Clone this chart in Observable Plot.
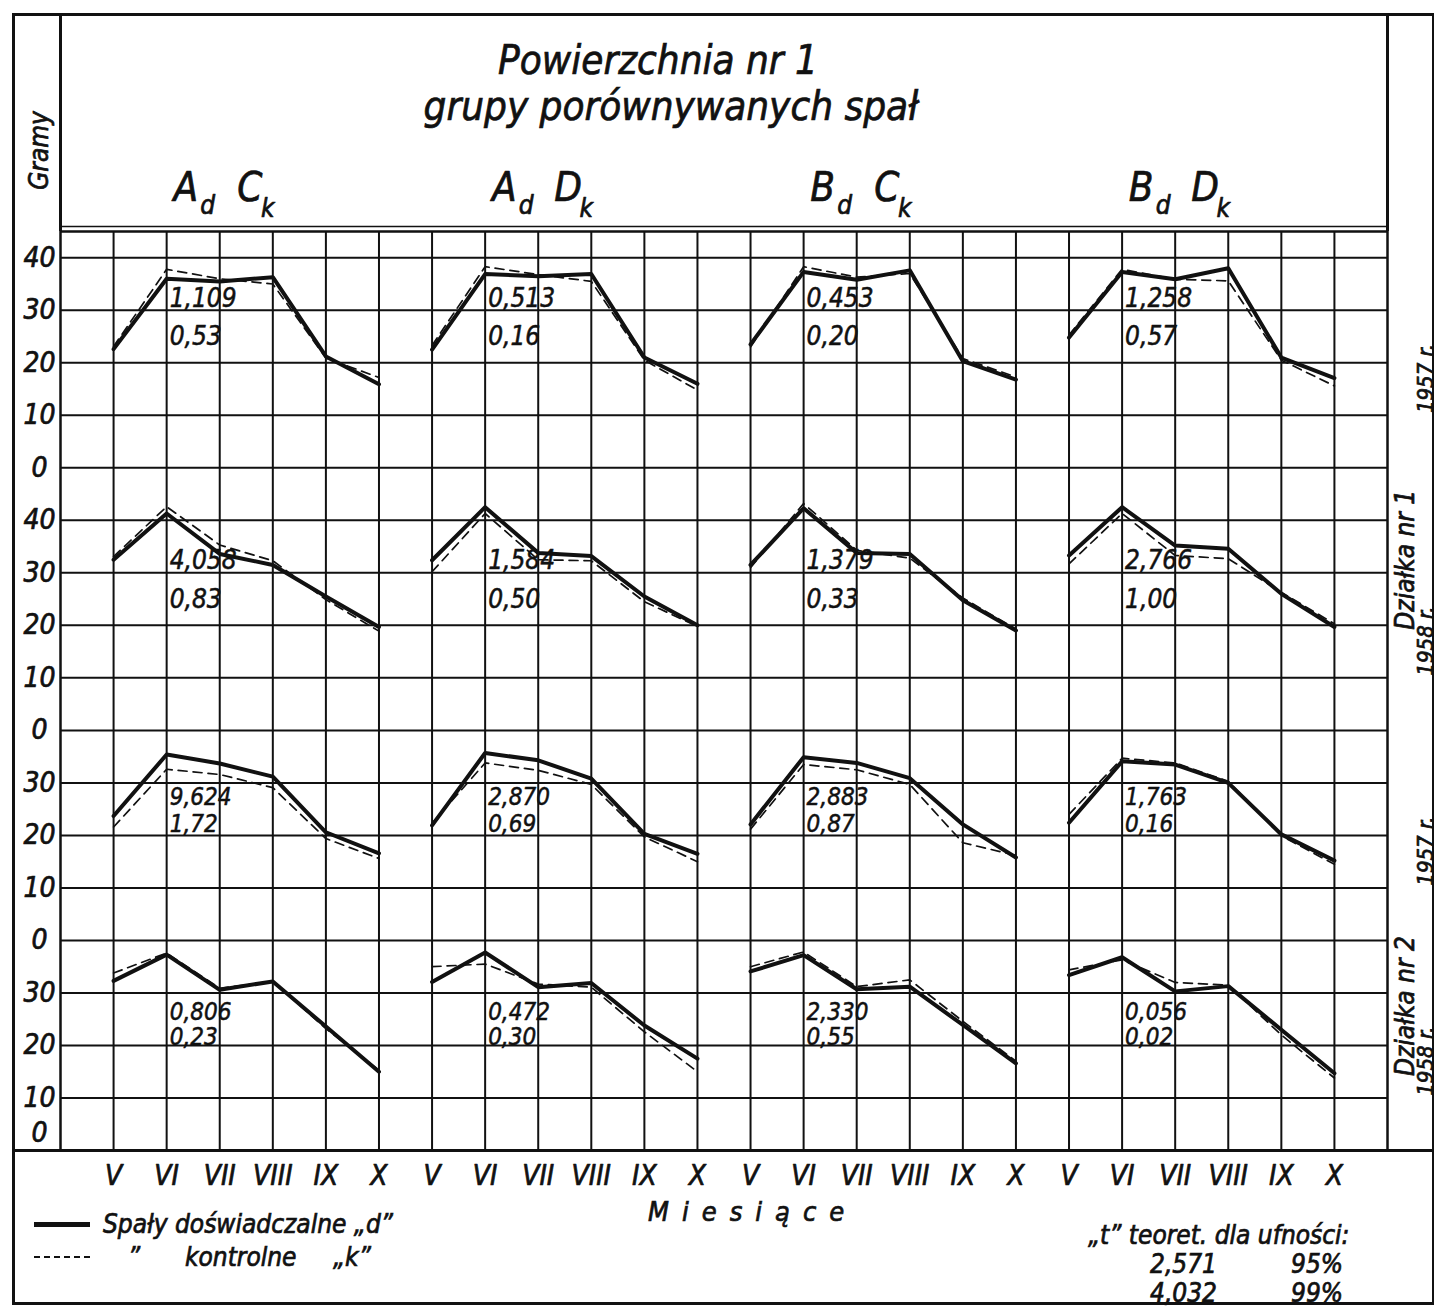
<!DOCTYPE html>
<html>
<head>
<meta charset="utf-8">
<script src="https://cdn.jsdelivr.net/npm/d3@7"></script>
<script src="https://cdn.jsdelivr.net/npm/@observablehq/plot@0.6"></script>
<style>
  html, body { margin: 0; padding: 0; background: #fff; }
  #page { position: relative; width: 1437px; height: 1311px; overflow: hidden;
          font-family: "Liberation Sans Narrow", "DejaVu Sans Condensed", "Liberation Sans", sans-serif;
          font-style: italic; color: #111; }
  #chart { position: absolute; left: 0; top: 0; }
  .abs { position: absolute; white-space: nowrap; line-height: 1; -webkit-text-stroke: 0.7px #111; }
  .bar { position: absolute; background: #111; }
</style>
</head>
<body>
<div id="page">
  <div id="chart"></div>
  <!-- frame lines around the figure -->
  <div class="bar" style="left:12px;top:13px;width:1422px;height:2.5px"></div>
  <div class="bar" style="left:12px;top:1302px;width:1422px;height:2.5px"></div>
  <div class="bar" style="left:12px;top:13px;width:2.5px;height:1292px"></div>
  <div class="bar" style="left:1432px;top:13px;width:2px;height:1292px"></div>
  <div class="bar" style="left:59px;top:13px;width:2.5px;height:218px"></div>
  <div class="bar" style="left:1386px;top:13px;width:2.5px;height:218px"></div>
  <div class="bar" style="left:12px;top:1149px;width:1422px;height:2.5px"></div>

  <div class="abs" id="t1" style="left:380px;width:556px;top:40px;text-align:center;font-size:40px">Powierzchnia nr 1</div>
  <div class="abs" id="t2" style="left:380px;width:582px;top:86px;text-align:center;font-size:40px">grupy porównywanych spał</div>

  <div class="abs" style="left:648px;top:1198px;font-size:27px;letter-spacing:13px">Miesiące</div>

  <div class="bar" style="left:34px;top:1222px;width:56px;height:4.5px"></div>
  <div class="abs" style="left:103px;top:1211px;font-size:26px">Spały doświadczalne „d”</div>
  <div class="abs" style="left:34px;top:1256px;width:56px;height:0;border-top:2px dashed #111;-webkit-text-stroke:0"></div>
  <div class="abs" style="left:128px;top:1244px;font-size:26px">”</div>
  <div class="abs" style="left:185px;top:1244px;font-size:26px">kontrolne</div>
  <div class="abs" style="left:333px;top:1244px;font-size:26px">„k”</div>

  <div class="abs" style="left:1088px;top:1222px;font-size:26px">„t” teoret. dla ufności:</div>
  <div class="abs" style="left:1150px;top:1251px;font-size:26px">2,571</div>
  <div class="abs" style="left:1291px;top:1251px;font-size:26px">95%</div>
  <div class="abs" style="left:1150px;top:1280px;font-size:26px">4,032</div>
  <div class="abs" style="left:1291px;top:1280px;font-size:26px">99%</div>
</div>
<script>
const FONT = '"Liberation Sans Narrow", "DejaVu Sans Condensed", "Liberation Sans", sans-serif';

// ---------- data ----------
const months = ["V", "VI", "VII", "VIII", "IX", "X"];
const groupD = ["A", "A", "B", "B"];       // experimental sleepers "d"
const groupK = ["C", "D", "C", "D"];       // control sleepers "k"
const panelYears = ["1957 r.", "1958 r.", "1957 r.", "1958 r."];
const plotNames = ["Działka nr 1", "Działka nr 2"];

// grams, months V..X, for groups AdCk, AdDk, BdCk, BdDk
const dz1_1957_d = [[22.6, 36.0, 35.5, 36.3, 21.2, 15.9], [22.5, 36.9, 36.5, 36.9, 21.0, 16.0], [23.5, 37.3, 35.8, 37.6, 20.3, 16.8], [24.8, 37.3, 35.9, 38.0, 21.0, 17.1]];
const dz1_1957_k = [[23.1, 37.8, 36.0, 35.0, 20.9, 17.2], [23.3, 38.3, 36.8, 35.5, 20.5, 14.8], [23.0, 38.3, 36.3, 37.0, 20.8, 17.3], [25.3, 37.8, 35.9, 35.6, 20.5, 15.6]];
const dz1_1958_d = [[32.5, 41.3, 33.6, 31.5, 25.5, 19.7], [32.4, 42.5, 33.8, 33.2, 25.5, 20.0], [31.5, 42.3, 33.8, 33.6, 24.8, 19.0], [33.3, 42.5, 35.2, 34.6, 26.0, 19.7]];
const dz1_1958_k = [[33.1, 42.6, 35.3, 32.3, 24.9, 18.9], [30.2, 41.3, 32.5, 32.3, 24.5, 19.8], [31.0, 43.2, 34.3, 32.8, 25.2, 19.3], [31.7, 41.3, 33.3, 32.7, 26.3, 20.3]];
const dz2_1957_d = [[23.7, 35.4, 33.7, 31.2, 20.6, 16.6], [21.9, 35.7, 34.3, 30.8, 20.3, 16.5], [22.1, 34.9, 33.8, 30.9, 22.1, 15.8], [22.4, 34.1, 33.5, 30.0, 20.2, 15.2]];
const dz2_1957_k = [[21.6, 32.6, 31.6, 29.1, 19.4, 15.6], [22.3, 33.8, 32.4, 29.7, 19.7, 15.0], [21.2, 33.5, 32.5, 29.7, 18.6, 16.2], [24.0, 34.7, 33.8, 30.3, 19.9, 14.5]];
const dz2_1958_d = [[32.3, 37.3, 30.6, 32.2, 23.6, 15.0], [32.1, 37.7, 31.1, 31.9, 23.8, 17.5], [34.1, 37.2, 30.7, 31.2, 23.9, 16.6], [33.4, 36.8, 30.3, 31.3, 23.0, 14.7]];
const dz2_1958_k = [[33.8, 37.6, 30.9, 32.2, 23.2, 15.3], [35.0, 35.5, 31.7, 31.1, 22.6, 15.0], [35.0, 37.8, 31.2, 32.5, 24.6, 17.0], [34.4, 36.3, 32.0, 31.5, 22.0, 13.8]];

// computed "t" and second statistic written in each panel
const tValues = [["1,109", "0,513", "0,453", "1,258"], ["4,058", "1,584", "1,379", "2,766"], ["9,624", "2,870", "2,883", "1,763"], ["0,806", "0,472", "2,330", "0,056"]];
const secondValues = [["0,53", "0,16", "0,20", "0,57"], ["0,83", "0,50", "0,33", "1,00"], ["1,72", "0,69", "0,87", "0,16"], ["0,23", "0,30", "0,55", "0,02"]];

const yTickLabels = [["40", "30", "20", "10", "0"], ["40", "30", "20", "10", "0"], ["30", "20", "10", "0"], ["30", "20", "10", "0"]];

// ---------- layout (stacking of the four panels on one continuous axis) ----------
const panelBase = [-40, -90, -130, -170];      // where each panel's 0 g sits
const annotTop = [32.3, 32.3, 27.2, 26.4];
const annotBottom = [24.9, 24.9, 22.2, 21.5];

const dSeries = [dz1_1957_d, dz1_1958_d, dz2_1957_d, dz2_1958_d];
const kSeries = [dz1_1957_k, dz1_1958_k, dz2_1957_k, dz2_1958_k];

const rows = [];
[["d", dSeries], ["k", kSeries]].forEach(([s, arr]) => arr.forEach((panel, p) => panel.forEach((vals, g) => vals.forEach((v, m) => {
  rows.push({series: s, panel: p, group: g, month: months[m], x: g * 6 + m + 1, value: v, G: v + panelBase[p], key: `${s}-${p}-${g}`});
}))));

const annots = [];
tValues.forEach((row, p) => row.forEach((t, g) => {
  annots.push({text: t, x: g * 6 + 2, G: panelBase[p] + annotTop[p], panel: p});
  annots.push({text: secondValues[p][g], x: g * 6 + 2, G: panelBase[p] + annotBottom[p], panel: p});
}));

const yTicks = [];
yTickLabels.forEach((labs, p) => labs.forEach((l, i) => yTicks.push({label: l, G: panelBase[p] + Number(l), last: p === 3 && i === labs.length - 1})));

const xTicks = [];
groupD.forEach((_, g) => months.forEach((m, i) => xTicks.push({label: m, x: g * 6 + i + 1})));

const groupLabels = groupD.map((d, g) => ({d, k: groupK[g], x: g * 6 + 3}));

const sideYears = panelYears.map((t, p) => ({text: t, G: panelBase[p] + 17}));
const sideNames = plotNames.map((t, i) => ({text: t, G: (panelBase[2 * i] + panelBase[2 * i + 1]) / 2 + 20 - 12.5}));

const ink = "#111";
const txt = {fill: ink, stroke: ink, strokeWidth: 0.7, lineAnchor: "middle", textAnchor: "middle"};
const chart = Plot.plot({
  width: 1437,
  height: 1311,
  marginTop: 231,
  marginBottom: 161,
  marginLeft: 60,
  marginRight: 50,
  x: {domain: [0, 25], axis: null},
  y: {domain: [-170, 5], axis: null},
  style: {fontFamily: FONT, fontStyle: "italic", background: "transparent", overflow: "visible", color: ink},
  marks: [
    Plot.ruleY(d3.range(-160, 1, 10), {stroke: ink, strokeWidth: 2}),
    Plot.ruleX(d3.range(1, 25), {stroke: ink, strokeWidth: 2}),
    Plot.frame({stroke: ink, strokeWidth: 2.5}),
    Plot.ruleY([5], {dy: -5, stroke: ink, strokeWidth: 1.5}),
    Plot.line(rows.filter(r => r.series === "k"), {x: "x", y: "G", z: "key", stroke: ink, strokeWidth: 1.7, strokeDasharray: "9,6"}),
    Plot.line(rows.filter(r => r.series === "d"), {x: "x", y: "G", z: "key", stroke: ink, strokeWidth: 4, strokeLinejoin: "round"}),
    Plot.text(annots, {...txt, x: "x", y: "G", text: "text", textAnchor: "start", dx: 3, strokeWidth: 0.5, fontSize: d => d.panel < 2 ? 26 : 24}),
    Plot.text(yTicks.filter(d => !d.last), {...txt, y: "G", text: "label", frameAnchor: "left", dx: -21, fontSize: 28}),
    Plot.text(yTicks.filter(d => d.last), {...txt, y: "G", text: "label", frameAnchor: "left", dx: -21, dy: -17, fontSize: 28}),
    Plot.text(xTicks, {...txt, x: "x", text: "label", frameAnchor: "bottom", dy: 26, fontSize: 28}),
    Plot.text(groupLabels, {...txt, x: "x", text: "d", frameAnchor: "top", dx: -34, dy: -43, fontSize: 40}),
    Plot.text(groupLabels, {...txt, x: "x", text: () => "d", frameAnchor: "top", dx: -12, dy: -26, fontSize: 26}),
    Plot.text(groupLabels, {...txt, x: "x", text: "k", frameAnchor: "top", dx: 30, dy: -43, fontSize: 40}),
    Plot.text(groupLabels, {...txt, x: "x", text: () => "k", frameAnchor: "top", dx: 48, dy: -23, fontSize: 26}),
    Plot.text(["Gramy"], {...txt, frameAnchor: "top-left", dx: -21, dy: -81, rotate: -90, fontSize: 26}),
    Plot.text(sideYears, {...txt, y: "G", text: "text", frameAnchor: "right", dx: 38, rotate: -90, fontSize: 22}),
    Plot.text(sideNames, {...txt, y: "G", text: "text", frameAnchor: "right", dx: 18, rotate: -90, fontSize: 26})
  ]
});
document.getElementById("chart").appendChild(chart);
</script>
</body>
</html>
